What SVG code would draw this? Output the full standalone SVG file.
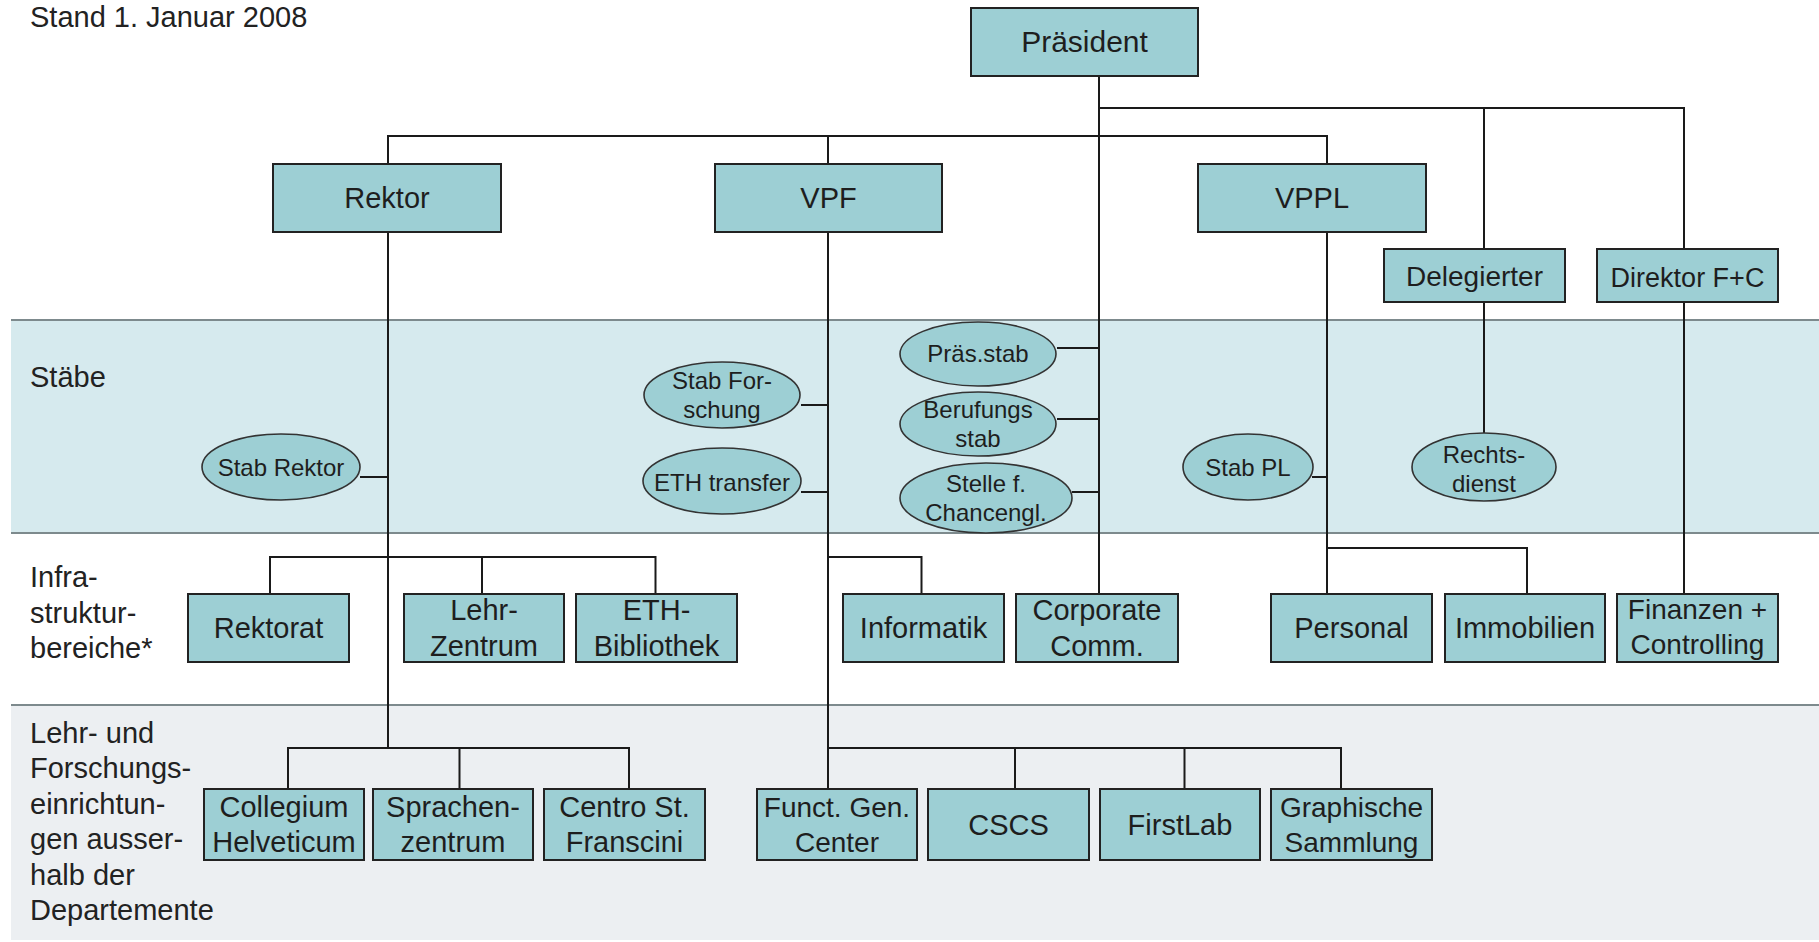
<svg xmlns="http://www.w3.org/2000/svg" width="1819" height="942" viewBox="0 0 1819 942">
<style>
.box{fill:#9dcfd4;stroke:#222;stroke-width:2}
.ell{fill:#9dcfd4;stroke:#333;stroke-width:1.6}
.t{font-family:"Liberation Sans",Arial,sans-serif;fill:#1e1e1e;text-anchor:middle}
.lbl{font-family:"Liberation Sans",Arial,sans-serif;fill:#222;font-size:29px}
.b30{font-size:30px}
.b29{font-size:29px}
.b28{font-size:28px}
.e24{font-size:24px}
.con{fill:none;stroke:#1a1a1a;stroke-width:2}
.band{stroke:#7d8a8d;stroke-width:2}
</style>
<rect x="0" y="0" width="1819" height="942" fill="#ffffff"/>
<g id="bands">
<rect x="11" y="320" width="1808" height="213" fill="#d6eaee"/>
<line class="band" x1="11" y1="320" x2="1819" y2="320"/>
<line class="band" x1="11" y1="533" x2="1819" y2="533"/>
<rect x="11" y="705" width="1808" height="235" fill="#eceff2"/>
<line class="band" x1="11" y1="705" x2="1819" y2="705"/>
</g>
<g id="labels">
<text class="lbl" x="30" y="27" font-size="28" fill="#333">Stand 1. Januar 2008</text>
<text class="lbl" x="30" y="387">Stäbe</text>
<text class="lbl" x="30" y="587">Infra-</text>
<text class="lbl" x="30" y="623">struktur-</text>
<text class="lbl" x="30" y="658">bereiche*</text>
<text class="lbl" x="30" y="743">Lehr- und</text>
<text class="lbl" x="30" y="778">Forschungs-</text>
<text class="lbl" x="30" y="814">einrichtun-</text>
<text class="lbl" x="30" y="849">gen ausser-</text>
<text class="lbl" x="30" y="885">halb der</text>
<text class="lbl" x="30" y="920">Departemente</text>
</g>
<g id="connectors">
<path class="con" d="M1099 76 V594"/>
<path class="con" d="M1099 108 H1684 V249 M1484 108 V249"/>
<path class="con" d="M388 164 V136 H1327 V164 M828 136 V164"/>
<path class="con" d="M388 232 V748 M288 789 V748 H629 V789 M459.5 748 V789"/>
<path class="con" d="M270 594 V557 H655.5 V594 M482 557 V594"/>
<path class="con" d="M828 232 V789 M828 748 H1341 V789 M1015 748 V789 M1184.5 748 V789"/>
<path class="con" d="M828 557 H921.5 V594"/>
<path class="con" d="M1327 232 V594 M1327 548 H1527 V594"/>
<path class="con" d="M1484 302 V434"/>
<path class="con" d="M1684 302 V594"/>
<path class="con" d="M360 477 H388 M801 405 H828 M801 492 H828 M1057 348 H1099 M1057 419 H1099 M1072 492 H1099 M1312 477 H1327"/>
</g>
<g id="n-praesident"><rect class="box" x="971" y="8" width="227" height="68"/><text class="t b30" x="1084.5" y="52">Präsident</text></g>
<g id="n-rektor"><rect class="box" x="273" y="164" width="228" height="68"/><text class="t b29" x="387" y="208">Rektor</text></g>
<g id="n-vpf"><rect class="box" x="715" y="164" width="227" height="68"/><text class="t b29" x="828.5" y="208">VPF</text></g>
<g id="n-vppl"><rect class="box" x="1198" y="164" width="228" height="68"/><text class="t b29" x="1312" y="208">VPPL</text></g>
<g id="n-delegierter"><rect class="box" x="1384" y="249" width="181" height="53"/><text class="t b28" x="1474.5" y="286">Delegierter</text></g>
<g id="n-direktor"><rect class="box" x="1597" y="249" width="181" height="53"/><text class="t" font-size="27" x="1687.5" y="287">Direktor F+C</text></g>
<g id="n-stabrektor"><ellipse class="ell" cx="281" cy="467" rx="79" ry="33"/><text class="t e24" x="281" y="476">Stab Rektor</text></g>
<g id="n-stabforschung"><ellipse class="ell" cx="722" cy="395" rx="78" ry="33"/><text class="t e24" x="722" y="389">Stab For-</text><text class="t e24" x="722" y="418">schung</text></g>
<g id="n-ethtransfer"><ellipse class="ell" cx="722" cy="481" rx="79" ry="33"/><text class="t e24" x="722" y="491">ETH transfer</text></g>
<g id="n-praesstab"><ellipse class="ell" cx="978" cy="354" rx="78" ry="32"/><text class="t e24" x="978" y="362">Präs.stab</text></g>
<g id="n-berufungsstab"><ellipse class="ell" cx="978" cy="424" rx="78" ry="32"/><text class="t e24" x="978" y="418">Berufungs</text><text class="t e24" x="978" y="447">stab</text></g>
<g id="n-chancengl"><ellipse class="ell" cx="986" cy="498" rx="86" ry="35"/><text class="t e24" x="986" y="492">Stelle f.</text><text class="t e24" x="986" y="521">Chancengl.</text></g>
<g id="n-stabpl"><ellipse class="ell" cx="1248" cy="467" rx="65" ry="33"/><text class="t e24" x="1248" y="476">Stab PL</text></g>
<g id="n-rechtsdienst"><ellipse class="ell" cx="1484" cy="467" rx="72" ry="34"/><text class="t e24" x="1484" y="463">Rechts-</text><text class="t e24" x="1484" y="492">dienst</text></g>
<g id="n-rektorat"><rect class="box" x="188" y="594" width="161" height="68"/><text class="t b29" x="268.5" y="638">Rektorat</text></g>
<g id="n-lehrzentrum"><rect class="box" x="404" y="594" width="160" height="68"/><text class="t b29" x="484" y="620">Lehr-</text><text class="t b29" x="484" y="656">Zentrum</text></g>
<g id="n-ethbib"><rect class="box" x="576" y="594" width="161" height="68"/><text class="t b29" x="656.5" y="620">ETH-</text><text class="t b29" x="656.5" y="656">Bibliothek</text></g>
<g id="n-informatik"><rect class="box" x="843" y="594" width="161" height="68"/><text class="t b29" x="923.5" y="638">Informatik</text></g>
<g id="n-corpcomm"><rect class="box" x="1016" y="594" width="162" height="68"/><text class="t b29" x="1097" y="620">Corporate</text><text class="t b29" x="1097" y="656">Comm.</text></g>
<g id="n-personal"><rect class="box" x="1271" y="594" width="161" height="68"/><text class="t b29" x="1351.5" y="638">Personal</text></g>
<g id="n-immobilien"><rect class="box" x="1445" y="594" width="160" height="68"/><text class="t b29" x="1525" y="638">Immobilien</text></g>
<g id="n-finanzen"><rect class="box" x="1617" y="594" width="161" height="68"/><text class="t b28" x="1697.5" y="619">Finanzen +</text><text class="t b28" x="1697.5" y="654">Controlling</text></g>
<g id="n-collegium"><rect class="box" x="204" y="789" width="160" height="71"/><text class="t b29" x="284" y="817">Collegium</text><text class="t b29" x="284" y="852">Helveticum</text></g>
<g id="n-sprachen"><rect class="box" x="373" y="789" width="160" height="71"/><text class="t b29" x="453" y="817">Sprachen-</text><text class="t b29" x="453" y="852">zentrum</text></g>
<g id="n-centro"><rect class="box" x="544" y="789" width="161" height="71"/><text class="t b29" x="624.5" y="817">Centro St.</text><text class="t b29" x="624.5" y="852">Franscini</text></g>
<g id="n-fgc"><rect class="box" x="757" y="789" width="160" height="71"/><text class="t b28" x="837" y="817">Funct. Gen.</text><text class="t b28" x="837" y="852">Center</text></g>
<g id="n-cscs"><rect class="box" x="928" y="789" width="161" height="71"/><text class="t b29" x="1008.5" y="835">CSCS</text></g>
<g id="n-firstlab"><rect class="box" x="1100" y="789" width="160" height="71"/><text class="t b29" x="1180" y="835">FirstLab</text></g>
<g id="n-graphische"><rect class="box" x="1271" y="789" width="161" height="71"/><text class="t b28" x="1351.5" y="817">Graphische</text><text class="t b28" x="1351.5" y="852">Sammlung</text></g>
</svg>
